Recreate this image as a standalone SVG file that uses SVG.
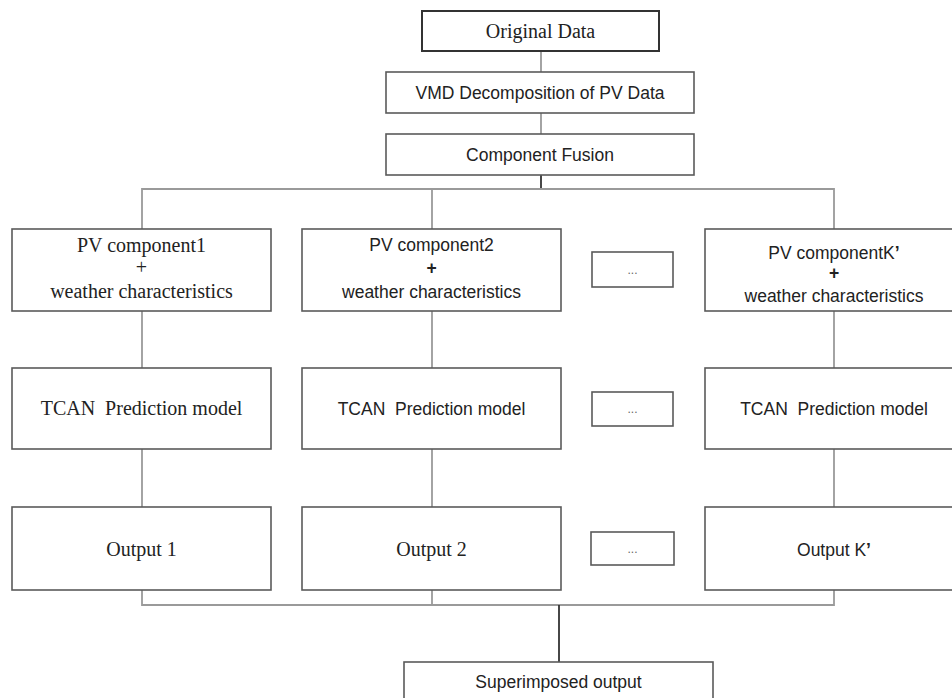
<svg xmlns="http://www.w3.org/2000/svg" width="952" height="698" viewBox="0 0 952 698">
<defs>
<style>
.box{fill:#fff;stroke:#5a5a5a;stroke-width:1.6}
.conn{fill:none;stroke:#9a9a9a;stroke-width:1.8}
.dark{fill:none;stroke:#333;stroke-width:1.8}
.serif{font-family:"Liberation Serif","Times New Roman",serif;font-size:20px;fill:#222;text-anchor:middle}
.sans{font-family:"Liberation Sans",Arial,sans-serif;font-size:17.5px;fill:#222;text-anchor:middle}
.dots{font-family:"Liberation Sans",Arial,sans-serif;font-size:12px;fill:#666;text-anchor:middle}
.apos{font-weight:bold}
</style>
</defs>
<rect width="952" height="698" fill="#fff"/>
<g id="connectors">
<line class="conn" x1="541" y1="51" x2="541" y2="72"/>
<line class="conn" x1="541" y1="113" x2="541" y2="134"/>
<line class="dark" x1="541" y1="175" x2="541" y2="189"/>
<polyline class="conn" points="142,229 142,189 834,189 834,229"/>
<line class="conn" x1="432" y1="189" x2="432" y2="229"/>
<line class="conn" x1="142" y1="311" x2="142" y2="368"/>
<line class="conn" x1="432" y1="311" x2="432" y2="368"/>
<line class="conn" x1="834" y1="311" x2="834" y2="368"/>
<line class="conn" x1="142" y1="449" x2="142" y2="507"/>
<line class="conn" x1="432" y1="449" x2="432" y2="507"/>
<line class="conn" x1="834" y1="449" x2="834" y2="507"/>
<polyline class="conn" points="142,590 142,605 834,605 834,590"/>
<line class="conn" x1="432" y1="590" x2="432" y2="605"/>
<line class="dark" x1="559" y1="605" x2="559" y2="662"/>
</g>
<g id="original-data">
<rect class="box" x="422" y="11" width="237" height="40" style="stroke:#333;stroke-width:2"/>
<text class="serif" x="540.5" y="38">Original Data</text>
</g>
<g id="vmd">
<rect class="box" x="386" y="72" width="308" height="41"/>
<text class="sans" x="540" y="99">VMD Decomposition of PV Data</text>
</g>
<g id="fusion">
<rect class="box" x="386" y="134" width="308" height="41"/>
<text class="sans" x="540" y="161">Component Fusion</text>
</g>
<g id="pv1">
<rect class="box" x="12" y="229" width="259" height="82"/>
<text class="serif" x="141.5" y="252">PV component1</text>
<text class="serif" x="141.5" y="274">+</text>
<text class="serif" x="141.5" y="298">weather characteristics</text>
</g>
<g id="pv2">
<rect class="box" x="302" y="229" width="259" height="82"/>
<text class="sans" x="431.5" y="251">PV component2</text>
<text class="sans" x="431.5" y="274" font-weight="bold">+</text>
<text class="sans" x="431.5" y="298">weather characteristics</text>
</g>
<g id="dots1">
<rect class="box" x="592" y="252" width="81" height="35"/>
<text class="dots" x="632.5" y="274">...</text>
</g>
<g id="pvk">
<rect class="box" x="705" y="229" width="258" height="82"/>
<text class="sans" x="834" y="259">PV componentK<tspan class="apos">’</tspan></text>
<text class="sans" x="834" y="279" font-weight="bold">+</text>
<text class="sans" x="834" y="302">weather characteristics</text>
</g>
<g id="tcan1">
<rect class="box" x="12" y="368" width="259" height="81"/>
<text class="serif" x="141.5" y="415" xml:space="preserve">TCAN  Prediction model</text>
</g>
<g id="tcan2">
<rect class="box" x="302" y="368" width="259" height="81"/>
<text class="sans" x="431.5" y="415" xml:space="preserve">TCAN  Prediction model</text>
</g>
<g id="dots2">
<rect class="box" x="592" y="392" width="81" height="34"/>
<text class="dots" x="632.5" y="413">...</text>
</g>
<g id="tcank">
<rect class="box" x="705" y="368" width="258" height="81"/>
<text class="sans" x="834" y="415" xml:space="preserve">TCAN  Prediction model</text>
</g>
<g id="out1">
<rect class="box" x="12" y="507" width="259" height="83"/>
<text class="serif" x="141.5" y="556">Output 1</text>
</g>
<g id="out2">
<rect class="box" x="302" y="507" width="259" height="83"/>
<text class="serif" x="431.5" y="556">Output 2</text>
</g>
<g id="dots3">
<rect class="box" x="591" y="532" width="83" height="33"/>
<text class="dots" x="632.5" y="553">...</text>
</g>
<g id="outk">
<rect class="box" x="705" y="507" width="258" height="83"/>
<text class="sans" x="834" y="556">Output K<tspan class="apos">’</tspan></text>
</g>
<g id="superimposed">
<rect class="box" x="404" y="662" width="309" height="50"/>
<text class="sans" x="558.5" y="688">Superimposed output</text>
</g>
</svg>
